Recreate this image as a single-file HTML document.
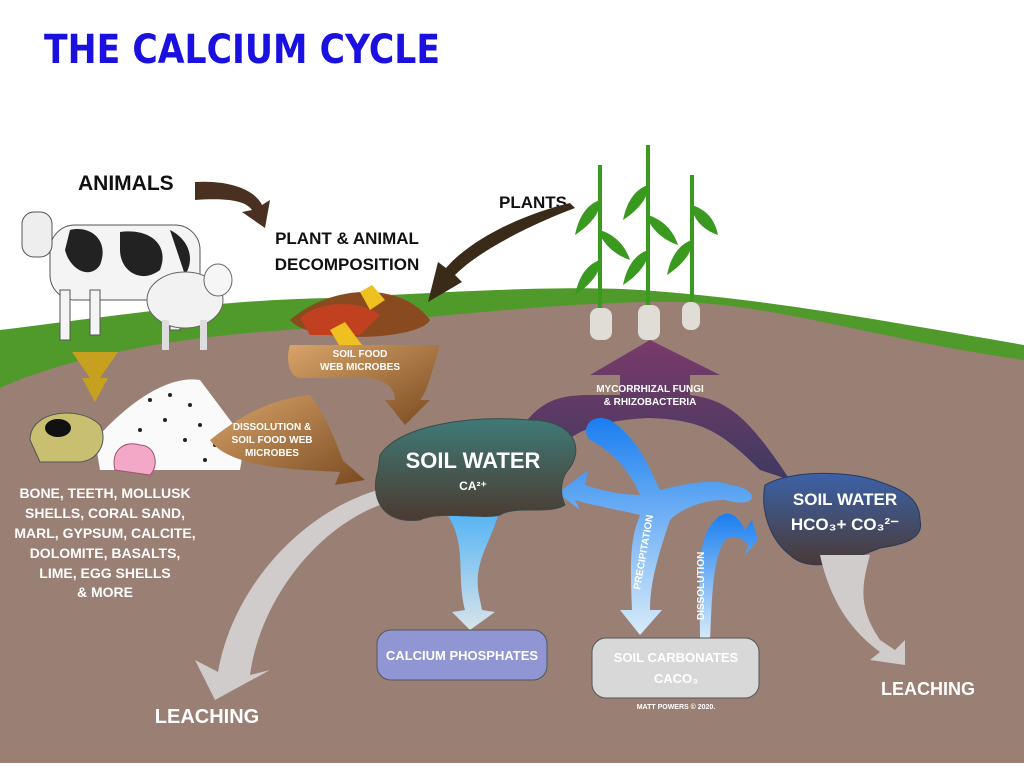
<!DOCTYPE html>
<html><head><meta charset="utf-8"><style>
body{margin:0;width:1024px;height:763px;overflow:hidden;background:#fff}
svg text{font-family:"Liberation Sans",sans-serif;font-weight:bold}
</style></head><body>
<svg width="1024" height="763" viewBox="0 0 1024 763" xmlns="http://www.w3.org/2000/svg">
<defs>
<linearGradient id="sw1" x1="0" y1="0" x2="0" y2="1"><stop offset="0" stop-color="#3f7a77"/><stop offset="1" stop-color="#4b3a30"/></linearGradient>
<linearGradient id="sw2" x1="0" y1="0" x2="0" y2="1"><stop offset="0" stop-color="#3b62a8"/><stop offset="1" stop-color="#4a3a36"/></linearGradient>
<linearGradient id="myc" x1="0" y1="0" x2="0" y2="1"><stop offset="0" stop-color="#7a3a6a"/><stop offset="1" stop-color="#3f3a60"/></linearGradient>
<linearGradient id="brn" x1="0" y1="0" x2="1" y2="1"><stop offset="0" stop-color="#d8a46a"/><stop offset="1" stop-color="#7a4a20"/></linearGradient>
<linearGradient id="blu" x1="0" y1="0" x2="0" y2="1"><stop offset="0" stop-color="#1a7ef0"/><stop offset="1" stop-color="#d8ecfa"/></linearGradient>
<linearGradient id="blu2" x1="0" y1="0" x2="0" y2="1"><stop offset="0" stop-color="#4bb0f5"/><stop offset="1" stop-color="#d8e4ea"/></linearGradient>
</defs>
<rect width="1024" height="763" fill="#fff"/>
<path d="M0,330 C120,315 220,300 330,298 C450,292 560,285 640,290 C760,298 880,320 1024,345 L1024,763 L0,763Z" fill="#4f9a2a"/>
<path d="M0,388 C60,360 160,340 260,332 C400,322 560,300 680,302 C780,305 880,340 1024,360 L1024,763 L0,763Z" fill="#9a7f74"/>
<text x="44" y="63" font-size="40" fill="#1a10e0" textLength="396" lengthAdjust="spacingAndGlyphs" style="font-family:'DejaVu Sans',sans-serif;font-weight:bold">THE CALCIUM CYCLE</text>
<text x="78" y="190" font-size="21" fill="#111">ANIMALS</text>
<path d="M195,182 C230,180 255,190 262,205 L270,200 L265,228 L242,212 L252,210 C245,200 225,198 195,200Z" fill="#4a3020"/>
<g>
<rect x="50" y="225" width="150" height="75" rx="25" fill="#f4f4f4" stroke="#555"/>
<path d="M70,230 C90,225 110,240 100,265 C90,280 70,270 65,250Z M120,232 C150,228 170,245 160,270 C140,285 120,270 120,250Z M170,230 C190,240 195,260 185,275 Z" fill="#222"/>
<rect x="22" y="212" width="30" height="45" rx="12" fill="#eee" stroke="#555"/>
<rect x="60" y="290" width="10" height="50" fill="#f4f4f4" stroke="#555"/>
<rect x="90" y="290" width="10" height="45" fill="#f4f4f4" stroke="#555"/>
<rect x="170" y="290" width="10" height="40" fill="#f4f4f4" stroke="#555"/>
</g>
<ellipse cx="185" cy="300" rx="38" ry="28" fill="#f2f2f2" stroke="#666"/>
<ellipse cx="218" cy="280" rx="14" ry="16" fill="#f6f6f6" stroke="#666"/>
<rect x="162" y="320" width="7" height="30" fill="#ddd"/><rect x="200" y="320" width="7" height="30" fill="#ddd"/>
<path d="M72,352 L118,352 L100,378 L108,378 L95,402 L82,378 L90,378Z" fill="#c8a020"/>
<path d="M95,440 C130,400 170,375 200,380 C215,400 230,420 245,440 L240,470 L100,470Z" fill="#fafafa"/>
<g fill="#222"><circle cx="150" cy="400" r="2"/><circle cx="170" cy="395" r="2"/><circle cx="190" cy="405" r="2"/><circle cx="165" cy="420" r="2"/><circle cx="200" cy="425" r="2"/><circle cx="140" cy="430" r="2"/><circle cx="185" cy="440" r="2"/><circle cx="215" cy="445" r="2"/><circle cx="125" cy="450" r="2"/><circle cx="205" cy="460" r="2"/></g>
<path d="M30,440 C30,410 80,405 100,425 C108,440 100,460 80,462 L40,462Z" fill="#c8c070" stroke="#555"/>
<ellipse cx="58" cy="428" rx="13" ry="9" fill="#111"/>
<path d="M115,470 C110,450 125,440 140,445 C155,445 160,465 150,475Z" fill="#f4a8c8" stroke="#a05070"/>
<g fill="#fff" font-size="14" text-anchor="middle">
<text x="105" y="498">BONE, TEETH, MOLLUSK</text>
<text x="105" y="518">SHELLS, CORAL SAND,</text>
<text x="105" y="538">MARL, GYPSUM, CALCITE,</text>
<text x="105" y="558">DOLOMITE, BASALTS,</text>
<text x="105" y="578">LIME, EGG SHELLS</text>
<text x="105" y="597">&amp; MORE</text>
</g>
<g fill="#111" font-size="17" text-anchor="middle"><text x="347" y="244">PLANT &amp; ANIMAL</text><text x="347" y="270">DECOMPOSITION</text></g>
<path d="M290,320 C330,285 400,280 430,320 C420,340 310,345 290,320Z" fill="#8a4a20"/>
<path d="M300,318 C320,300 360,300 380,315 L360,335 L310,335Z" fill="#c04020"/>
<path d="M360,292 L372,285 L385,300 L370,310Z M330,330 L345,322 L362,345 L345,355Z" fill="#f0c020"/>
<path d="M290,345 L440,345 C430,380 425,395 420,400 L430,400 L405,425 L385,400 L395,400 C395,385 380,378 365,378 L300,378 C290,378 285,360 290,345Z" fill="url(#brn)"/>
<path d="M210,440 C230,425 260,400 310,395 C330,420 340,455 345,465 L340,458 L365,480 L335,485 L340,472 C310,470 230,470 210,440Z" fill="url(#brn)"/>
<g fill="#fff" font-size="10" text-anchor="middle"><text x="360" y="357">SOIL FOOD</text><text x="360" y="370">WEB MICROBES</text>
<text x="272" y="430">DISSOLUTION &amp;</text><text x="272" y="443">SOIL FOOD WEB</text><text x="272" y="456">MICROBES</text></g>
<text x="533" y="208" font-size="17" fill="#111" text-anchor="middle">PLANTS</text>
<path d="M575,208 C530,225 480,250 455,275 L462,282 L428,302 L438,262 L446,268 C470,240 520,215 570,203Z" fill="#3a2a18"/>
<g stroke="#3a9a20" stroke-width="4" fill="none">
<path d="M600,165 L600,315"/><path d="M648,145 L648,315"/><path d="M692,175 L692,310"/>
</g>
<g fill="#3a9a20">
<path d="M600,200 C585,205 578,220 575,235 C590,225 598,215 600,205Z"/><path d="M600,230 C615,235 625,245 630,260 C615,255 605,245 600,235Z"/><path d="M600,260 C585,265 578,280 575,295 C590,285 598,275 600,265Z"/>
<path d="M648,185 C633,190 626,205 623,220 C638,210 646,200 648,190Z"/><path d="M648,215 C663,220 673,230 678,245 C663,240 653,230 648,220Z"/><path d="M648,250 C633,255 626,270 623,285 C638,275 646,265 648,255Z"/>
<path d="M692,205 C707,210 715,220 718,235 C703,230 695,220 692,210Z"/><path d="M692,240 C677,245 670,260 667,275 C682,265 690,255 692,245Z"/>
</g>
<g fill="#e0ddd6"><rect x="590" y="308" width="22" height="32" rx="8"/><rect x="638" y="305" width="22" height="35" rx="8"/><rect x="682" y="302" width="18" height="28" rx="8"/></g>
<path d="M520,430 C540,400 560,395 590,395 L620,395 L620,375 L590,375 L650,340 L720,375 L690,375 L690,395 C730,400 750,420 790,480 L760,470 C720,430 700,420 650,418 C600,420 580,430 560,445Z" fill="url(#myc)"/>
<g fill="#fff" font-size="10" text-anchor="middle"><text x="650" y="392">MYCORRHIZAL FUNGI</text><text x="650" y="405">&amp; RHIZOBACTERIA</text></g>
<path d="M395,500 C320,520 260,600 250,675 L270,670 L215,700 L195,660 L218,672 C232,590 300,510 385,488Z" fill="#d0cccb"/>
<path d="M440,505 L500,505 C495,540 470,560 480,600 L482,610 L495,612 L470,630 L452,612 L465,610 C455,570 470,540 440,505Z" fill="url(#blu2)"/>
<path d="M590,440 C580,430 590,412 610,420 C640,440 650,470 660,490 C700,480 720,480 730,485 C760,488 760,510 725,500 C700,500 680,510 670,520 C660,550 650,580 650,610 L662,610 L640,635 L620,610 L632,610 C630,560 630,540 640,515 C620,510 590,505 575,500 L580,510 L558,493 L588,470 L585,485 C600,490 620,495 640,495 C630,470 610,450 590,440Z" fill="url(#blu)"/>
<path d="M682,640 L700,640 C700,580 695,540 715,520 C730,505 740,520 745,530 L752,520 L758,540 L745,555 L748,545 C740,535 730,535 725,540 C712,560 712,600 710,640Z" fill="url(#blu)"/>
<g fill="#fff" font-size="10"><text transform="translate(640,590) rotate(-80)">PRECIPITATION</text><text transform="translate(704,620) rotate(-90)">DISSOLUTION</text></g>
<path d="M380,455 C400,425 470,415 530,420 C575,420 585,450 568,470 C560,480 560,495 565,505 C550,515 515,505 500,515 C480,520 440,510 420,520 C380,525 370,495 378,470Z" fill="url(#sw1)" stroke="#3a4a48"/>
<text x="473" y="468" font-size="22" fill="#fff" text-anchor="middle">SOIL WATER</text>
<text x="473" y="490" font-size="12" fill="#fff" text-anchor="middle">CA²⁺</text>
<path d="M765,485 C790,470 850,470 880,482 C905,490 920,500 920,520 C925,540 900,545 880,548 C850,560 810,575 790,555 C770,540 760,510 765,485Z" fill="url(#sw2)" stroke="#2a3a5a"/>
<text x="845" y="505" font-size="17" fill="#fff" text-anchor="middle">SOIL WATER</text>
<text x="845" y="530" font-size="17" fill="#fff" text-anchor="middle">HCO₃+ CO₃²⁻</text>
<path d="M820,555 L870,555 C860,590 860,610 880,640 L895,650 L905,640 L905,665 L870,660 L880,652 C850,630 830,600 820,555Z" fill="#d0cccb"/>
<rect x="377" y="630" width="170" height="50" rx="14" fill="#9096d4" stroke="#555"/>
<text x="462" y="660" font-size="13" fill="#fff" text-anchor="middle">CALCIUM PHOSPHATES</text>
<rect x="592" y="638" width="167" height="60" rx="14" fill="#d8d8d8" stroke="#555"/>
<text x="676" y="662" font-size="13" fill="#fff" text-anchor="middle">SOIL CARBONATES</text>
<text x="676" y="683" font-size="13" fill="#fff" text-anchor="middle">CACO₃</text>
<text x="676" y="709" font-size="7" fill="#fff" text-anchor="middle">MATT POWERS © 2020.</text>
<text x="207" y="723" font-size="20" fill="#fff" text-anchor="middle">LEACHING</text>
<text x="928" y="695" font-size="18" fill="#fff" text-anchor="middle">LEACHING</text>
</svg>
</body></html>
